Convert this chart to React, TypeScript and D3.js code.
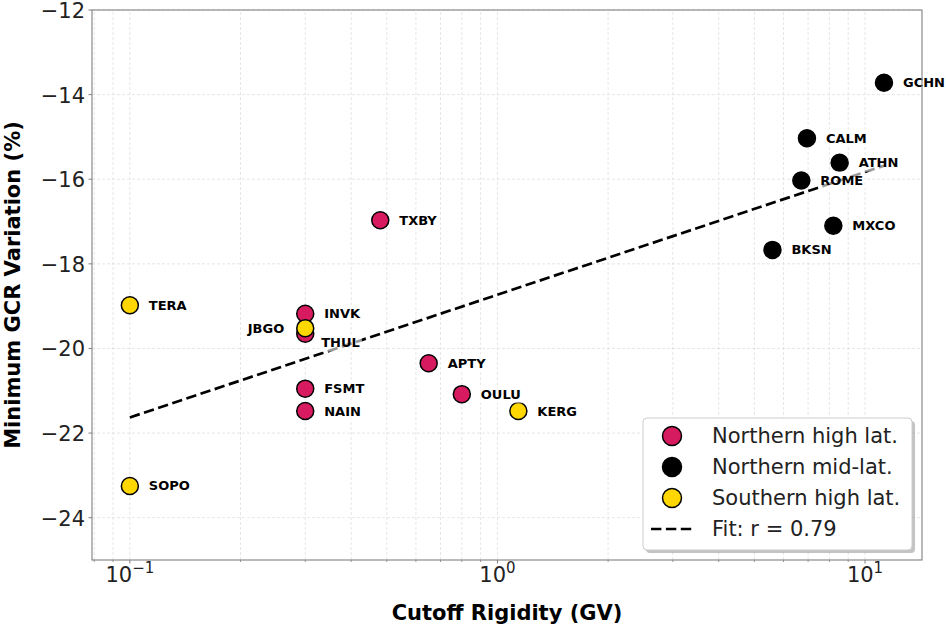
import React from 'react';
import * as d3 from 'd3';

// station data
const stations = ['TXBY', 'INVK', 'THUL', 'FSMT', 'NAIN', 'APTY', 'OULU',
  'GCHN', 'CALM', 'ATHN', 'ROME', 'MXCO', 'BKSN',
  'TERA', 'SOPO', 'JBGO', 'KERG'];
const rigidity = [0.48, 0.30, 0.30, 0.30, 0.30, 0.65, 0.80,
  11.26, 6.95, 8.53, 6.71, 8.20, 5.60,
  0.10, 0.10, 0.30, 1.14];
const minVariation = [-16.97, -19.18, -19.65, -20.95, -21.48, -20.35, -21.08,
  -13.72, -15.03, -15.61, -16.03, -17.10, -17.67,
  -18.98, -23.25, -19.52, -21.48];
const groupOf = [0, 0, 0, 0, 0, 0, 0, 1, 1, 1, 1, 1, 1, 2, 2, 2, 2];
const groups = ['Northern high lat.', 'Northern mid-lat.', 'Southern high lat.'];

// linear fit in log10(rigidity)
const fitX = [0.1, 11.26];
const fitY = [-21.63, -15.68];
const fitLabel = 'Fit: r = 0.79';

const yTicks = [-24, -22, -20, -18, -16, -14, -12];
const xTickExps = [-1, 0, 1];

const groupColors = ['#D81B60', '#000000', '#FFD700'];
const labelOffsets: Record<string, [number, number, string]> = {
  THUL: [16, 9, 'start'],
  JBGO: [-21, 0, 'end'],
};

const W = 946;
const H = 628;
const margin = { left: 92, right: 24, top: 10, bottom: 68 };
const font = '"DejaVu Sans", sans-serif';

let measureCtx: CanvasRenderingContext2D | null = null;
const textWidth = (s: string) => {
  if (!measureCtx) measureCtx = document.createElement('canvas').getContext('2d');
  if (!measureCtx) return s.length * 9.5;
  measureCtx.font = 'bold 13px "DejaVu Sans"';
  return measureCtx.measureText(s).width;
};

const App: React.FC = () => {
  const x = d3.scaleLog()
    .domain([Math.pow(10, -1.103), Math.pow(10, 1.155)])
    .range([margin.left, W - margin.right]);
  const y = d3.scaleLinear().domain([-25, -12]).range([H - margin.bottom, margin.top]);

  const [x0, x1] = x.range();
  const [yb, yt] = y.range();

  const minorX: number[] = [];
  for (let e = -2; e <= 1; e++) {
    for (let m = 2; m <= 9; m++) {
      const v = m * Math.pow(10, e);
      if (v >= x.domain()[0] && v <= x.domain()[1]) minorX.push(v);
    }
  }
  const majorX = xTickExps.map(e => Math.pow(10, e));

  const fitLine = d3.line<number>()
    .x((_, i) => x(fitX[i]))
    .y(d => y(d));

  const order = d3.range(stations.length).sort((a, b) => groupOf[a] - groupOf[b]);

  const legend = { x: 643, y: 418, w: 269, h: 132 };
  const rowY = (i: number) => legend.y + 18 + i * 31;

  return (
    <svg width={W} height={H} style={{ position: 'absolute', left: 0, top: 0, background: '#fff' }}>
      <rect x={0} y={0} width={W} height={H} fill="#fff" />
      {/* grid */}
      <g stroke="#e0e0e0" strokeWidth={0.8} strokeDasharray="3,2">
        {minorX.concat(majorX).map(v => (
          <line key={'gx' + v} x1={x(v)} x2={x(v)} y1={yb} y2={yt} />
        ))}
        {yTicks.map(v => (
          <line key={'gy' + v} x1={x0} x2={x1} y1={y(v)} y2={y(v)} />
        ))}
      </g>

      {/* fit */}
      <path d={fitLine(fitY) || ''} fill="none" stroke="#000" strokeWidth={2.7} strokeDasharray="10.4,4.5" />

      {/* points */}
      {order.map(i => (
        <circle key={stations[i]} cx={x(rigidity[i])} cy={y(minVariation[i])} r={8.5}
          fill={groupColors[groupOf[i]]} stroke="#000" strokeWidth={1.5} />
      ))}

      {/* station labels, on a faint white box */}
      {order.map(i => {
        const [dx, dy, anchor] = labelOffsets[stations[i]] || [19, 0, 'start'];
        const tx = x(rigidity[i]) + dx;
        const ty = y(minVariation[i]) + dy;
        const w = textWidth(stations[i]);
        const left = anchor === 'end' ? tx - w : tx;
        return (
          <g key={'l' + stations[i]}>
            <rect x={left - 2} y={ty - 9} width={w + 4} height={18} fill="#fff" opacity={0.6} />
            <text x={tx} y={ty} fontFamily={font} fontSize={13} fontWeight="bold" textAnchor={anchor}
              dominantBaseline="central" fill="#000">{stations[i]}</text>
          </g>
        );
      })}

      {/* spines */}
      <rect x={x0} y={yt} width={x1 - x0} height={yb - yt} fill="none" stroke="#808080" strokeWidth={1.1} />

      {/* y axis ticks */}
      {yTicks.map(v => (
        <g key={'ty' + v}>
          <line x1={x0 - 3.5} x2={x0} y1={y(v)} y2={y(v)} stroke="#808080" strokeWidth={1} />
          <text x={x0 - 7} y={y(v) + 1} textAnchor="end" dominantBaseline="central"
            fontFamily={font} fontSize={21} fill="#222">{'\u2212' + Math.abs(v)}</text>
        </g>
      ))}

      {/* x axis ticks */}
      {minorX.map(v => (
        <line key={'mx' + v} x1={x(v)} x2={x(v)} y1={yb} y2={yb + 2} stroke="#808080" strokeWidth={0.8} />
      ))}
      {xTickExps.map(e => (
        <g key={'tx' + e}>
          <line x1={x(Math.pow(10, e))} x2={x(Math.pow(10, e))} y1={yb} y2={yb + 3.5} stroke="#808080" strokeWidth={1} />
          <text x={x(Math.pow(10, e))} y={yb + 22} textAnchor="middle" fontFamily={font} fill="#222">
            <tspan fontSize={21}>10</tspan>
            <tspan fontSize={15} dy={-9}>{e < 0 ? '\u2212' + Math.abs(e) : String(e)}</tspan>
          </text>
        </g>
      ))}

      {/* axis labels */}
      <text x={(x0 + x1) / 2} y={620} textAnchor="middle" fontFamily={font} fontSize={21}
        fontWeight="bold" fill="#000">Cutoff Rigidity (GV)</text>
      <text transform={`translate(20,${(yb + yt) / 2}) rotate(-90)`} textAnchor="middle" fontFamily={font}
        fontSize={21} fontWeight="bold" fill="#000">Minimum GCR Variation (%)</text>

      {/* legend */}
      <rect x={legend.x + 3} y={legend.y + 3} width={legend.w} height={legend.h} rx={4}
        fill="#888" opacity={0.5} />
      <rect x={legend.x} y={legend.y} width={legend.w} height={legend.h} rx={4}
        fill="#fff" stroke="#cccccc" strokeWidth={1} />
      {groups.map((g, i) => (
        <g key={g}>
          <circle cx={legend.x + 29} cy={rowY(i)} r={9.5} fill={groupColors[i]} stroke="#000" strokeWidth={1.5} />
          <text x={legend.x + 69} y={rowY(i)} dominantBaseline="central" fontFamily={font}
            fontSize={21} fill="#222">{g}</text>
        </g>
      ))}
      <line x1={legend.x + 8} x2={legend.x + 50} y1={rowY(3)} y2={rowY(3)} stroke="#000"
        strokeWidth={2.7} strokeDasharray="10.4,4.5" />
      <text x={legend.x + 69} y={rowY(3)} dominantBaseline="central" fontFamily={font}
        fontSize={21} fill="#222">{fitLabel}</text>
    </svg>
  );
};

export default App;
